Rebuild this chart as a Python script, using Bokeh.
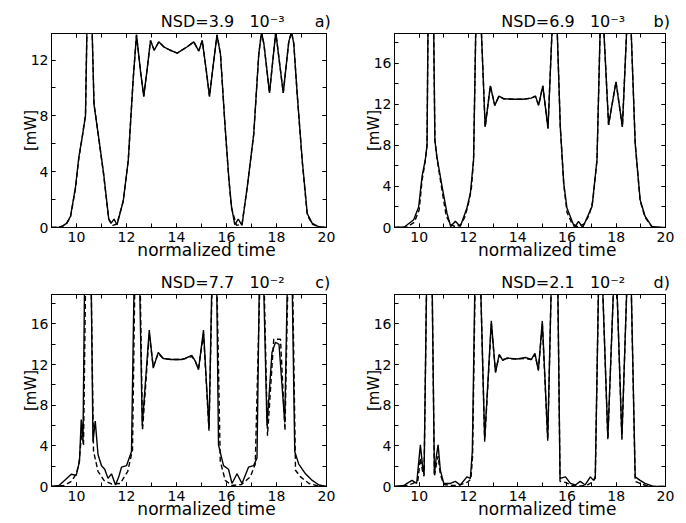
from bokeh.plotting import figure
from bokeh.models import Range1d, FixedTicker, LinearAxis, CustomJSTickFormatter
from bokeh.layouts import column, row
from bokeh.embed import file_html
from bokeh.resources import INLINE

# ---------------- data ----------------
x_major = [10, 12, 14, 16, 18, 20]
x_minor = list(range(9, 21))
x_title = "normalized time"
y_title = "[mW]"

# panel a) NSD=3.9 10^-3
a_solid = [(9.0,0),(9.3,0.03),(9.45,0.12),(9.6,0.3),(9.76,0.8),(9.96,2.9),(10.09,5.0),(10.23,6.5),(10.36,8.0),
           (10.42,14.5),(10.52,25),(10.62,14.5),(10.7,8.8),(10.89,6.4),(11.09,3.8),(11.29,0.6),(11.38,0.3),(11.5,0.6),
           (11.62,0.2),(11.87,1.9),(12.07,4.8),(12.27,10.7),(12.4,13.8),(12.56,11.2),(12.69,9.4),(12.83,11.4),(12.96,13.4),
           (13.11,12.7),(13.29,13.3),(13.49,12.95),(13.75,12.7),(14.03,12.5),(14.43,12.95),(14.69,13.3),(14.89,12.65),
           (15.03,13.4),(15.18,11.4),(15.32,9.4),(15.48,11.8),(15.62,13.8),(15.76,12.4),(15.93,7.6),(16.09,3.6),(16.2,1.5),
           (16.33,0.2),(16.47,0.6),(16.62,0.15),(16.83,2.9),(17.09,6.7),(17.29,12.4),(17.4,14.0),(17.5,13.1),(17.72,9.65),
           (17.97,14.0),(18.27,9.65),(18.49,13.3),(18.6,14.0),(18.69,13.2),(18.83,9.5),(19.03,4.8),(19.23,1.0),(19.43,0.3),
           (19.7,0.05),(20.0,0)]
a_dashed = [(9.0,0),(9.3,0.02),(9.45,0.1),(9.6,0.28),(9.76,0.75),(9.96,2.8),(10.09,4.9),(10.23,6.5),(10.36,8.1),
            (10.42,14.5),(10.52,25),(10.62,14.5),(10.7,8.9),(10.89,6.4),(11.09,3.7),(11.29,0.6),(11.45,0.15),(11.62,0.25),
            (11.87,1.9),(12.07,4.8),(12.27,10.7),(12.4,13.8),(12.56,11.2),(12.69,9.4),(12.83,11.4),(12.96,13.4),(13.11,12.7),
            (13.29,13.3),(13.49,12.95),(13.75,12.7),(14.03,12.5),(14.43,12.95),(14.69,13.3),(14.89,12.65),(15.03,13.4),
            (15.18,11.4),(15.32,9.4),(15.48,11.8),(15.62,13.8),(15.76,12.4),(15.93,7.6),(16.09,3.5),(16.2,1.4),(16.4,0.15),
            (16.62,0.25),(16.83,2.9),(17.09,6.7),(17.29,12.4),(17.4,14.0),(17.5,13.1),(17.72,9.65),(17.97,14.0),(18.27,9.65),
            (18.49,13.3),(18.6,14.0),(18.69,13.2),(18.83,9.5),(19.03,4.7),(19.23,0.9),(19.43,0.25),(19.7,0.03),(20.0,0)]

# panel b) NSD=6.9 10^-3
b_solid = [(9.0,0),(9.4,0.05),(9.78,0.75),(9.98,2.0),(10.12,5.0),(10.25,6.6),(10.32,8.0),(10.36,19.5),(10.47,30),
           (10.59,19.5),(10.64,8.5),(10.72,6.9),(10.93,4.0),(11.13,1.4),(11.28,0.1),(11.47,0.6),(11.67,0.1),(11.94,1.9),
           (12.08,3.35),(12.21,6.6),(12.3,19.5),(12.41,30),(12.52,19.5),(12.68,9.8),(12.89,13.8),(13.07,11.9),(13.24,12.8),
           (13.42,12.55),(13.8,12.5),(14.2,12.5),(14.55,12.6),(14.72,12.8),(14.85,11.9),(15.02,13.8),(15.23,9.65),
           (15.4,19.5),(15.5,30),(15.6,19.5),(15.73,9.8),(15.87,4.3),(16.0,1.9),(16.31,0.0),(16.47,0.6),(16.64,0.0),
           (17.02,2.06),(17.22,6.6),(17.35,19.5),(17.42,30),(17.49,19.5),(17.69,10.0),(17.99,14.2),(18.25,9.8),
           (18.43,19.5),(18.52,30),(18.6,19.5),(18.77,8.2),(18.97,2.7),(19.17,1.1),(19.44,0.1),(19.8,0.0),(20.0,0.0)]
b_dashed = [(9.0,0),(9.5,0.05),(9.8,0.5),(10.0,1.7),(10.12,4.6),(10.25,6.5),(10.32,8.0),(10.36,19.5),(10.47,30),
            (10.59,19.5),(10.64,8.5),(10.72,6.8),(10.93,3.6),(11.1,1.1),(11.3,0.25),(11.5,0.05),(11.7,0.3),(11.85,1.0),
            (12.0,2.3),(12.12,3.8),(12.21,6.6),(12.3,19.5),(12.41,30),(12.52,19.5),(12.68,9.8),(12.89,13.8),(13.07,11.9),
            (13.24,12.8),(13.42,12.55),(13.8,12.5),(14.2,12.5),(14.55,12.6),(14.72,12.8),(14.85,11.9),(15.02,13.8),
            (15.23,9.65),(15.4,19.5),(15.5,30),(15.6,19.5),(15.73,9.8),(15.87,4.2),(16.0,1.5),(16.2,0.4),(16.45,0.05),
            (16.7,0.35),(16.9,1.2),(17.05,2.6),(17.22,6.6),(17.35,19.5),(17.42,30),(17.49,19.5),(17.69,10.0),(17.99,14.2),
            (18.25,9.8),(18.43,19.5),(18.52,30),(18.6,19.5),(18.77,8.2),(18.97,2.6),(19.17,1.0),(19.44,0.1),(19.8,0.0),(20.0,0.0)]

# panel c) NSD=7.7 10^-2
c_solid = [(9.0,0),(9.3,0.1),(9.52,0.6),(9.79,1.2),(9.99,1.1),(10.12,2.5),(10.19,6.6),(10.26,4.6),(10.32,19.5),
           (10.45,30),(10.59,19.5),(10.66,4.4),(10.75,6.45),(10.86,3.15),(11.0,2.05),(11.13,1.7),(11.26,0.8),(11.4,1.25),
           (11.56,0.15),(11.69,0.95),(11.8,1.9),(12.0,2.05),(12.2,3.45),(12.3,19.5),(12.42,30),(12.53,19.5),(12.63,6.0),
           (12.91,15.4),(13.07,11.65),(13.27,13.2),(13.47,12.6),(13.8,12.5),(14.2,12.5),(14.34,12.6),(14.61,12.9),
           (14.74,12.4),(14.88,11.5),(15.08,15.4),(15.3,5.7),(15.41,19.5),(15.51,30),(15.61,19.5),(15.68,4.1),(15.88,2.05),
           (16.08,1.7),(16.22,0.3),(16.42,1.25),(16.62,0.3),(16.88,1.9),(17.08,2.05),(17.22,2.8),(17.31,19.5),(17.4,30),
           (17.49,19.5),(17.62,6.0),(17.82,13.2),(17.96,14.2),(18.1,14.0),(18.33,6.3),(18.43,19.5),(18.53,30),(18.63,19.5),
           (18.73,3.45),(18.89,2.2),(19.16,1.25),(19.43,0.6),(19.7,0.15),(20.0,0.0)]
c_dashed = [(9.0,0),(9.5,0.1),(9.8,0.5),(10.0,1.3),(10.1,2.3),(10.21,5.4),(10.28,4.0),(10.36,19.5),(10.47,30),
            (10.59,19.5),(10.68,3.5),(10.86,1.5),(11.1,0.6),(11.4,0.25),(11.75,0.3),(12.05,1.5),(12.24,3.6),(12.33,19.5),
            (12.44,30),(12.55,19.5),(12.64,5.5),(12.91,15.0),(13.07,11.8),(13.27,13.1),(13.47,12.6),(13.8,12.5),(14.2,12.5),
            (14.34,12.6),(14.61,12.8),(14.74,12.4),(14.88,11.6),(15.08,15.0),(15.3,5.5),(15.42,19.5),(15.52,30),(15.62,19.5),
            (15.75,2.5),(15.95,0.6),(16.22,0.1),(16.6,0.2),(16.95,0.95),(17.15,2.2),(17.33,19.5),(17.42,30),(17.51,19.5),
            (17.64,5.0),(17.89,14.5),(18.16,14.5),(18.34,5.5),(18.45,19.5),(18.55,30),(18.65,19.5),(18.76,1.6),(18.96,0.95),
            (19.3,0.3),(19.7,0.02),(20.0,0.0)]

# panel d) NSD=2.1 10^-2
d_solid = [(9.0,0),(9.38,0.1),(9.51,0.3),(9.71,0.6),(9.9,0.3),(10.05,4.1),(10.14,2.0),(10.2,1.2),(10.3,19.5),
           (10.42,30),(10.53,19.5),(10.62,1.2),(10.7,3.0),(10.77,4.1),(10.86,1.6),(11.0,0.3),(11.27,0.3),(11.47,0.5),
           (11.67,0.15),(11.94,0.95),(12.08,0.8),(12.16,3.5),(12.26,19.5),(12.38,30),(12.5,19.5),(12.66,4.6),(12.93,16.3),
           (13.1,11.2),(13.25,13.0),(13.4,12.4),(13.56,12.65),(13.97,12.55),(14.32,12.7),(14.55,12.5),(14.7,13.1),
           (14.84,11.4),(15.0,16.3),(15.22,4.7),(15.36,19.5),(15.5,30),(15.63,19.5),(15.72,0.8),(15.94,0.95),(16.14,0.3),
           (16.34,0.15),(16.54,0.5),(16.74,0.15),(16.95,0.95),(17.08,0.6),(17.15,1.0),(17.28,19.5),(17.37,30),(17.45,19.5),
           (17.66,4.8),(17.89,19.5),(17.96,30),(18.03,19.5),(18.23,4.8),(18.43,19.5),(18.52,30),(18.61,19.5),(18.77,0.95),
           (18.97,0.6),(19.17,0.3),(19.5,0.0),(20.0,0.0)]
d_dashed = [(9.0,0),(9.5,0.1),(9.75,0.3),(9.95,0.6),(10.05,2.8),(10.14,1.5),(10.2,1.0),(10.3,19.5),(10.42,30),
            (10.53,19.5),(10.62,1.0),(10.7,2.2),(10.77,3.0),(10.86,1.2),(11.0,0.2),(11.3,0.1),(11.6,0.1),(11.94,0.4),
            (12.1,0.7),(12.17,3.0),(12.27,19.5),(12.38,30),(12.5,19.5),(12.66,4.4),(12.93,16.0),(13.1,11.3),(13.25,12.9),
            (13.4,12.5),(13.56,12.6),(13.97,12.55),(14.32,12.6),(14.55,12.5),(14.7,13.0),(14.84,11.5),(15.0,16.0),
            (15.22,4.5),(15.36,19.5),(15.5,30),(15.63,19.5),(15.72,0.5),(15.94,0.4),(16.2,0.1),(16.5,0.05),(16.8,0.1),
            (17.0,0.4),(17.15,0.8),(17.28,19.5),(17.37,30),(17.45,19.5),(17.66,4.6),(17.89,19.5),(17.96,30),(18.03,19.5),
            (18.23,4.6),(18.43,19.5),(18.52,30),(18.61,19.5),(18.77,0.5),(18.97,0.3),(19.2,0.1),(19.5,0.0),(20.0,0.0)]

FONT = "DejaVu Sans"
NB = "\u00a0"


def style_ticks(ax):
    ax.major_tick_in = 4
    ax.major_tick_out = 0
    ax.minor_tick_in = 4
    ax.minor_tick_out = 0
    ax.axis_line_color = "black"
    ax.major_tick_line_color = "black"
    ax.minor_tick_line_color = "black"
    ax.major_label_text_font = FONT
    ax.major_label_text_font_size = "14px"
    ax.major_label_text_color = "black"


def text_axis(pos_list, texts, size, standoff):
    ax = LinearAxis(ticker=FixedTicker(ticks=pos_list, minor_ticks=[]),
                    formatter=CustomJSTickFormatter(args=dict(pos=pos_list, txt=texts),
                                                    code="return txt[pos.indexOf(tick)];"))
    ax.major_tick_in = 0
    ax.major_tick_out = 0
    ax.minor_tick_in = 0
    ax.minor_tick_out = 0
    ax.axis_line_color = None
    ax.major_label_text_font = FONT
    ax.major_label_text_font_size = size
    ax.major_label_text_color = "black"
    ax.major_label_standoff = standoff
    return ax


def panel(title, tag, ymax, ymaj, ymin, solid, dashed, width, height, bl, br, bt, bb):
    p = figure(width=width, height=height, x_range=Range1d(9, 20), y_range=Range1d(0, ymax),
               output_backend="svg", toolbar_location=None,
               min_border_left=bl, min_border_right=br, min_border_top=bt, min_border_bottom=bb)
    p.xgrid.visible = False
    p.ygrid.visible = False
    p.outline_line_color = "black"
    p.background_fill_color = "white"
    p.border_fill_color = "white"

    bottom = p.below[0]
    left = p.left[0]
    bottom.ticker = FixedTicker(ticks=x_major, minor_ticks=x_minor)
    left.ticker = FixedTicker(ticks=ymaj, minor_ticks=ymin)
    top = LinearAxis(ticker=FixedTicker(ticks=x_major, minor_ticks=x_minor),
                     formatter=CustomJSTickFormatter(code="return '';"))
    right = LinearAxis(ticker=FixedTicker(ticks=ymaj, minor_ticks=ymin),
                       formatter=CustomJSTickFormatter(code="return '';"))
    p.add_layout(top, "above")
    p.add_layout(right, "right")
    for ax in [bottom, left, top, right]:
        style_ticks(ax)
    top.major_label_text_font_size = "0px"
    right.major_label_text_font_size = "0px"
    top.major_label_standoff = 0
    right.major_label_standoff = 0
    bottom.major_label_standoff = 4
    left.major_label_standoff = 3

    left.axis_label = y_title
    left.axis_label_text_font = FONT
    left.axis_label_text_font_size = "15px"
    left.axis_label_text_font_style = "normal"
    left.axis_label_text_color = "black"
    left.axis_label_standoff = -12

    # title line above the frame, and the x-axis title below the tick labels
    p.add_layout(text_axis([15.85, 19.85], [title, tag], "16px", 3), "above")
    p.add_layout(text_axis([15.2], [x_title], "17px", -5), "below")

    dx, dy = zip(*dashed)
    sx, sy = zip(*solid)
    p.line(list(dx), list(dy), line_color="black", line_width=1.4, line_dash="5 3")
    p.line(list(sx), list(sy), line_color="black", line_width=1.4)
    return p


y4 = [0, 4, 8, 12, 16]
y2 = list(range(0, 19, 2))
pa = panel("NSD=3.9" + NB * 3 + "10\u207b\u00b3", "a)", 13.9, [0, 4, 8, 12], list(range(0, 14, 2)),
           a_solid, a_dashed, 343, 262, 51, 17, 33, 33)
pb = panel("NSD=6.9" + NB * 3 + "10\u207b\u00b3", "b)", 18.9, y4, y2,
           b_solid, b_dashed, 341, 262, 51, 19, 33, 33)
pc = panel("NSD=7.7" + NB * 3 + "10\u207b\u00b2", "c)", 18.9, y4, y2,
           c_solid, c_dashed, 343, 259, 51, 17, 30, 32)
pd = panel("NSD=2.1" + NB * 3 + "10\u207b\u00b2", "d)", 18.9, y4, y2,
           d_solid, d_dashed, 341, 259, 51, 19, 32, 32)

layout = column(row(pa, pb), row(pc, pd))
open("out.html", "w").write(file_html(layout, INLINE))
